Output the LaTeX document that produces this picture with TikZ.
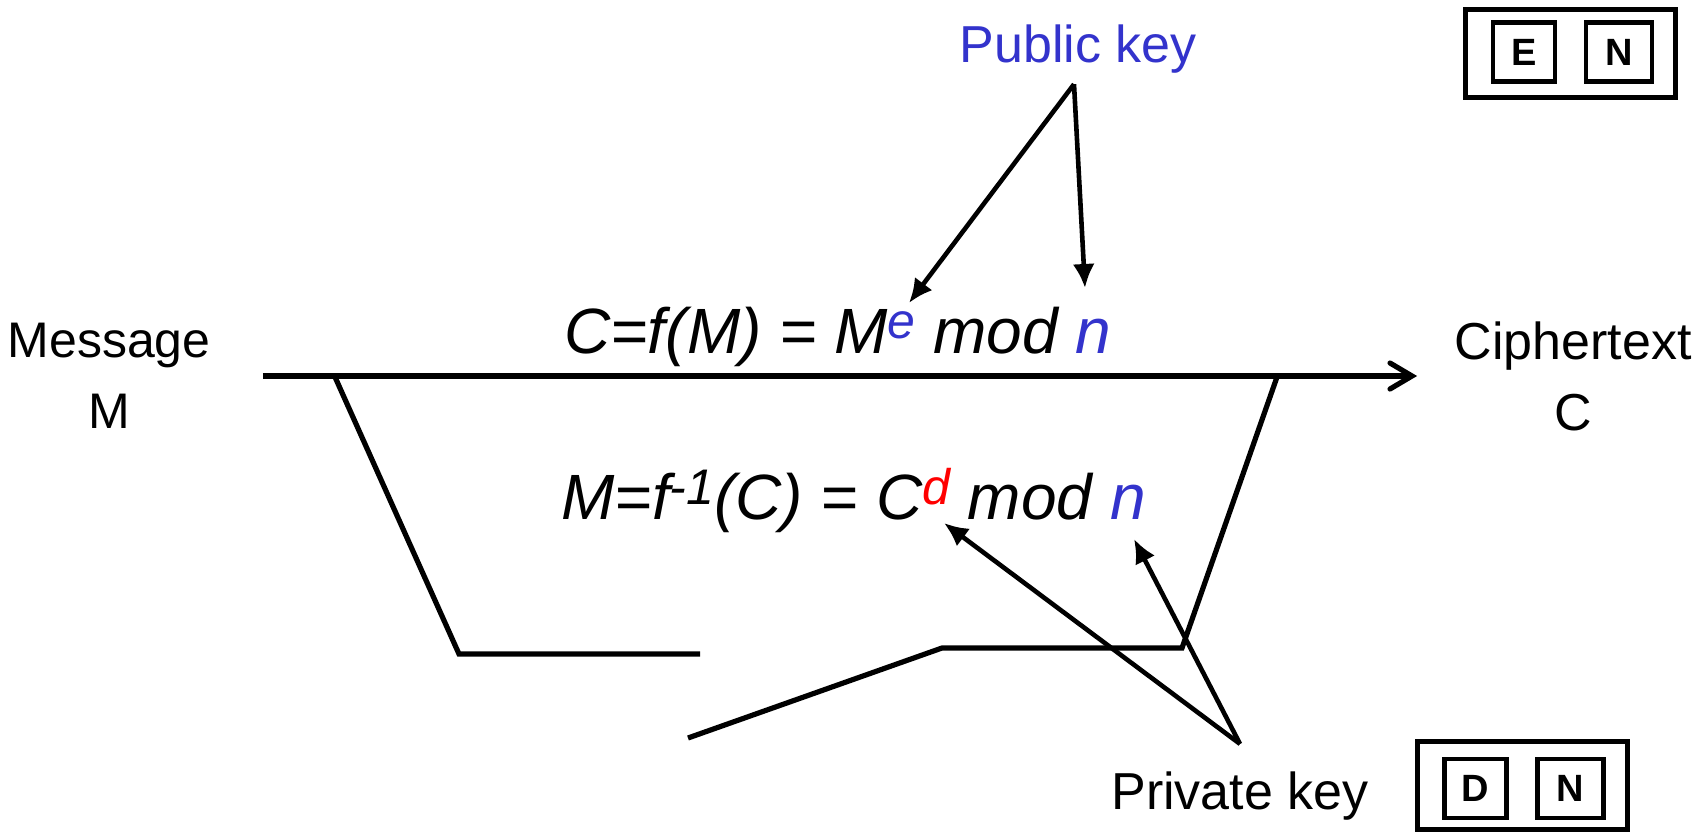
\documentclass[tikz,border=0pt]{standalone}
\usepackage{fontspec}
\setmainfont{Liberation Sans}
\usetikzlibrary{arrows.meta}
\definecolor{keyblue}{RGB}{51,51,204}
\definecolor{keyred}{RGB}{255,0,0}
\newcommand{\upidx}[1]{\raisebox{7.5pt}{\fontsize{25}{25}\selectfont #1}}

\begin{document}
\begin{tikzpicture}[
        x=0.5pt, y=-0.5pt,
        >={Latex[length=12pt,width=11pt]},
        word/.style={inner sep=0pt, align=center, font=\fontsize{26}{35.5}\selectfont},
        formula/.style={inner sep=0pt, anchor=base west, font=\fontsize{32}{38}\selectfont\itshape},
        keybox/.style={draw=black, line width=2.4pt, minimum width=105pt, minimum height=44pt},
        keycell/.style={draw=black, line width=2.2pt, minimum width=31pt, minimum height=29.5pt, font=\fontsize{19}{19}\selectfont\bfseries},
        wire/.style={line width=2.6pt},
        arrow/.style={->, line width=2.3pt},
        mainarrow/.style={-{Straight Barb[length=11pt,width=13pt,line cap=round]}, line width=2.6pt}
    ]
    \useasboundingbox (0,0) rectangle (1702,835);

    \node[word, font=\fontsize{25}{35.5}\selectfont] (msg) at (109,376) {Message\\M};
    \node[word] (cipher) at (1573,376) {Ciphertext\\C};
    \node[word, text=keyblue, anchor=base] (pubkey) at (1078,62) {Public key};
    \node[word, anchor=base] (privkey) at (1240,809) {Private key};

    \node[formula] (enc) at (564,353) {C=f(M) = M\upidx{\textcolor{keyblue}{e}} mod \textcolor{keyblue}{n}};
    \node[formula] (dec) at (561,519) {M=f\upidx{-1}(C) = C\upidx{\textcolor{keyred}{d}} mod \textcolor{keyblue}{n}};

    \node[keybox] (pubbox) at (1570.5,53.5) {};
    \node[keycell] (pube) at (1524,52) {E};
    \node[keycell, minimum width=33pt] (pubn) at (1619,52) {N};
    \node[keybox] (privbox) at (1522.5,785.5) {};
    \node[keycell] (privd) at (1475.5,788.5) {D};
    \node[keycell, minimum width=33pt] (privn) at (1570.5,788.5) {N};

    \coordinate (etip) at (909,303);
    \coordinate (ntip) at (1085,288);
    \coordinate (dtip) at (944,523);
    \coordinate (mtip) at (1134,539);

    \draw[mainarrow, shorten <=26pt, shorten >=18.5pt] (msg) -- (cipher);
    \draw[wire] (335,377) -- (459,654) -- (700,654);
    \draw[wire] (1277,377) -- (1182,648) -- (942,648) -- (688,738);

    \draw[arrow] ([xshift=-2pt,yshift=-5.5pt]pubkey.south) -- (etip);
    \draw[arrow] ([xshift=-2pt,yshift=-5.5pt]pubkey.south) -- (ntip);
    \draw[arrow] ([yshift=13.5pt]privkey.north) -- (dtip);
    \draw[arrow] ([yshift=13.5pt]privkey.north) -- (mtip);
\end{tikzpicture}
\end{document}
